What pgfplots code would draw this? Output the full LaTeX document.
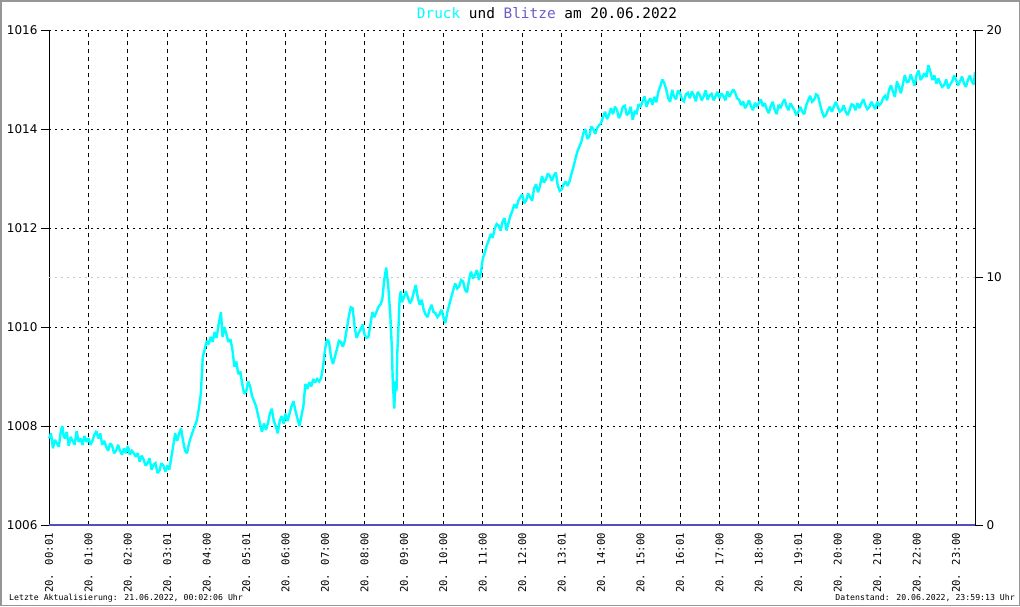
\documentclass[border=0pt]{standalone}
\usepackage{fontspec}
\setmainfont{DejaVu Sans}
\newfontfamily\monofont{DejaVu Sans Mono}
\usepackage{pgfplots}
\usepackage{pgfplotstable}
\pgfplotsset{compat=1.18}
\definecolor{druck}{RGB}{0,255,255}
\definecolor{blitz}{RGB}{106,90,205}
\definecolor{blitzline}{RGB}{85,80,185}
\definecolor{framegray}{RGB}{150,150,150}

\pgfplotstableread{
h v
0.0 1007.75
0.05 1007.85
0.1 1007.55
0.15 1007.72
0.2 1007.65
0.25 1007.58
0.3 1007.90
0.34 1008.00
0.37 1007.80
0.4 1007.75
0.45 1007.88
0.5 1007.60
0.55 1007.78
0.6 1007.70
0.65 1007.62
0.7 1007.90
0.75 1007.68
0.8 1007.75
0.85 1007.62
0.9 1007.80
0.95 1007.68
1.0 1007.75
1.05 1007.62
1.1 1007.70
1.15 1007.82
1.2 1007.90
1.25 1007.75
1.3 1007.85
1.35 1007.62
1.4 1007.70
1.45 1007.58
1.5 1007.50
1.55 1007.65
1.6 1007.60
1.65 1007.45
1.7 1007.50
1.75 1007.62
1.8 1007.50
1.85 1007.42
1.9 1007.55
1.95 1007.45
2.0 1007.60
2.05 1007.42
2.1 1007.50
2.15 1007.45
2.2 1007.38
2.25 1007.45
2.3 1007.28
2.35 1007.40
2.4 1007.32
2.45 1007.20
2.5 1007.25
2.55 1007.35
2.6 1007.12
2.65 1007.22
2.7 1007.25
2.75 1007.05
2.8 1007.10
2.85 1007.25
2.9 1007.20
2.95 1007.08
3.0 1007.20
3.05 1007.12
3.1 1007.35
3.15 1007.60
3.2 1007.85
3.25 1007.70
3.3 1007.85
3.35 1007.95
3.4 1007.70
3.45 1007.50
3.5 1007.45
3.55 1007.65
3.6 1007.78
3.65 1007.90
3.7 1008.00
3.75 1008.12
3.8 1008.35
3.85 1008.65
3.9 1009.40
3.95 1009.55
4.0 1009.72
4.05 1009.65
4.1 1009.80
4.15 1009.70
4.2 1009.90
4.25 1009.78
4.3 1010.05
4.36 1010.30
4.4 1009.80
4.45 1010.00
4.5 1009.85
4.55 1009.70
4.6 1009.75
4.65 1009.55
4.7 1009.20
4.75 1009.30
4.8 1009.05
4.85 1009.10
4.9 1008.85
4.95 1008.65
5.0 1008.70
5.05 1008.90
5.1 1008.80
5.15 1008.60
5.2 1008.50
5.25 1008.40
5.3 1008.22
5.35 1008.05
5.4 1007.88
5.45 1008.05
5.5 1007.92
5.55 1008.05
5.6 1008.25
5.65 1008.35
5.7 1008.10
5.75 1008.00
5.8 1007.85
5.85 1008.10
5.9 1008.20
5.95 1008.05
6.0 1008.25
6.05 1008.10
6.1 1008.25
6.15 1008.40
6.2 1008.50
6.25 1008.30
6.3 1008.15
6.35 1008.00
6.4 1008.20
6.45 1008.40
6.5 1008.85
6.55 1008.75
6.6 1008.88
6.65 1008.80
6.7 1008.95
6.75 1008.88
6.8 1008.95
6.85 1008.90
6.9 1008.97
6.95 1009.20
7.0 1009.55
7.05 1009.75
7.1 1009.70
7.15 1009.40
7.2 1009.25
7.25 1009.40
7.3 1009.55
7.35 1009.72
7.4 1009.70
7.45 1009.60
7.5 1009.72
7.55 1009.95
7.6 1010.20
7.65 1010.40
7.7 1010.38
7.75 1010.00
7.8 1009.78
7.85 1009.88
7.9 1009.95
7.95 1010.05
8.0 1009.85
8.05 1009.78
8.1 1009.80
8.15 1010.05
8.2 1010.30
8.25 1010.20
8.3 1010.30
8.35 1010.40
8.4 1010.45
8.45 1010.55
8.5 1010.95
8.55 1011.20
8.6 1010.85
8.654 1010.25
8.692 1009.60
8.717 1008.90
8.755 1008.35
8.781 1008.90
8.811 1008.70
8.832 1009.50
8.857 1009.90
8.890 1010.57
8.92 1010.72
8.95 1010.50
9.0 1010.60
9.05 1010.72
9.1 1010.60
9.15 1010.48
9.2 1010.55
9.25 1010.70
9.3 1010.85
9.35 1010.60
9.4 1010.45
9.45 1010.55
9.5 1010.35
9.55 1010.25
9.6 1010.20
9.65 1010.35
9.7 1010.45
9.75 1010.30
9.8 1010.28
9.85 1010.20
9.9 1010.25
9.95 1010.35
10.0 1010.20
10.05 1010.08
10.1 1010.30
10.15 1010.45
10.2 1010.60
10.25 1010.75
10.3 1010.88
10.35 1010.78
10.4 1010.82
10.45 1010.95
10.5 1010.92
10.55 1010.75
10.6 1010.70
10.65 1010.95
10.7 1011.12
10.75 1010.98
10.8 1011.05
10.85 1011.15
10.9 1010.95
10.95 1011.10
11.0 1011.38
11.05 1011.50
11.1 1011.65
11.15 1011.75
11.2 1011.88
11.25 1011.80
11.3 1011.98
11.35 1012.08
11.4 1012.05
11.45 1011.95
11.5 1012.12
11.55 1012.20
11.6 1011.95
11.65 1012.10
11.7 1012.25
11.75 1012.35
11.8 1012.48
11.85 1012.40
11.9 1012.55
11.95 1012.62
12.0 1012.68
12.05 1012.50
12.1 1012.56
12.15 1012.70
12.2 1012.62
12.25 1012.55
12.3 1012.80
12.35 1012.88
12.4 1012.72
12.45 1012.85
12.5 1013.05
12.55 1012.92
12.6 1012.98
12.65 1013.10
12.7 1013.05
12.75 1012.95
12.8 1013.06
12.85 1013.12
12.9 1012.86
12.95 1012.75
13.0 1012.78
13.05 1012.88
13.1 1012.94
13.15 1012.85
13.2 1012.95
13.25 1013.10
13.3 1013.24
13.35 1013.40
13.4 1013.55
13.45 1013.65
13.5 1013.75
13.55 1013.92
13.6 1014.00
13.65 1013.80
13.7 1013.85
13.75 1014.05
13.8 1014.00
13.85 1013.90
13.9 1014.02
13.95 1014.08
14.0 1014.12
14.05 1014.25
14.1 1014.35
14.15 1014.20
14.2 1014.29
14.25 1014.42
14.3 1014.30
14.35 1014.45
14.4 1014.39
14.45 1014.22
14.5 1014.30
14.55 1014.45
14.6 1014.47
14.65 1014.28
14.7 1014.32
14.75 1014.45
14.8 1014.19
14.85 1014.35
14.9 1014.32
14.95 1014.50
15.0 1014.46
15.05 1014.55
15.1 1014.66
15.15 1014.45
15.2 1014.56
15.25 1014.62
15.3 1014.49
15.35 1014.65
15.4 1014.54
15.45 1014.75
15.5 1014.86
15.55 1015.00
15.6 1014.93
15.65 1014.80
15.7 1014.62
15.75 1014.55
15.8 1014.79
15.85 1014.65
15.9 1014.60
15.95 1014.78
16.0 1014.73
16.05 1014.60
16.1 1014.56
16.15 1014.70
16.2 1014.73
16.25 1014.62
16.3 1014.76
16.35 1014.68
16.4 1014.56
16.45 1014.75
16.5 1014.69
16.55 1014.58
16.6 1014.66
16.65 1014.78
16.7 1014.59
16.75 1014.68
16.8 1014.71
16.85 1014.58
16.9 1014.66
16.95 1014.75
17.0 1014.62
17.05 1014.72
17.1 1014.66
17.15 1014.58
17.2 1014.76
17.25 1014.65
17.3 1014.73
17.35 1014.80
17.4 1014.73
17.45 1014.62
17.5 1014.59
17.55 1014.48
17.6 1014.56
17.65 1014.42
17.7 1014.49
17.75 1014.58
17.8 1014.46
17.85 1014.38
17.9 1014.53
17.95 1014.45
18.0 1014.53
18.05 1014.60
18.1 1014.46
18.15 1014.52
18.2 1014.40
18.25 1014.32
18.3 1014.46
18.35 1014.55
18.4 1014.39
18.45 1014.30
18.5 1014.49
18.55 1014.42
18.6 1014.53
18.65 1014.60
18.7 1014.46
18.75 1014.38
18.8 1014.52
18.85 1014.45
18.9 1014.38
18.95 1014.28
19.0 1014.35
19.05 1014.45
19.1 1014.35
19.15 1014.30
19.2 1014.48
19.25 1014.58
19.3 1014.67
19.35 1014.55
19.4 1014.59
19.45 1014.70
19.5 1014.67
19.55 1014.50
19.6 1014.35
19.65 1014.25
19.7 1014.28
19.75 1014.38
19.8 1014.45
19.85 1014.35
19.9 1014.45
19.95 1014.55
20.0 1014.45
20.05 1014.35
20.1 1014.38
20.15 1014.48
20.2 1014.35
20.25 1014.28
20.3 1014.38
20.35 1014.50
20.4 1014.48
20.45 1014.38
20.5 1014.52
20.55 1014.42
20.6 1014.52
20.65 1014.60
20.7 1014.48
20.75 1014.40
20.8 1014.44
20.85 1014.55
20.9 1014.48
20.95 1014.40
21.0 1014.55
21.05 1014.48
21.1 1014.52
21.15 1014.62
21.2 1014.67
21.25 1014.58
21.3 1014.79
21.35 1014.88
21.4 1014.75
21.45 1014.65
21.5 1014.96
21.55 1014.85
21.6 1014.72
21.65 1014.90
21.7 1015.09
21.75 1014.95
21.8 1014.96
21.85 1015.10
21.9 1014.99
21.95 1014.88
22.0 1015.09
22.05 1015.18
22.1 1014.99
22.15 1015.05
22.2 1015.13
22.25 1015.05
22.3 1015.29
22.35 1015.15
22.4 1014.99
22.45 1015.08
22.5 1014.92
22.55 1015.02
22.6 1014.92
22.65 1014.85
22.7 1014.89
22.75 1015.00
22.8 1014.82
22.85 1014.90
22.9 1014.96
22.95 1015.08
23.0 1014.99
23.05 1014.88
23.1 1014.96
23.15 1015.06
23.2 1014.92
23.25 1014.85
23.3 1014.99
23.35 1015.08
23.4 1014.96
23.45 1014.90
23.48 1015.15
}\druckdata

\begin{document}
\begin{tikzpicture}[x=1pt,y=1pt]
\draw[framegray, line width=1.5pt] (0.75,-0.75) rectangle (1019.25,-605.25);
\node[anchor=center, font=\monofont\fontsize{14.4}{14.4}\selectfont] at (547,-13)
  {\textcolor{druck}{Druck} und \textcolor{blitz}{Blitze} am 20.06.2022};
\node[anchor=west, font=\monofont\fontsize{8.2}{8.2}\selectfont, inner sep=0pt] at (9,-598)
  {Letzte Aktualisierung: 21.06.2022, 00:02:06 Uhr};
\node[anchor=east, font=\monofont\fontsize{8.2}{8.2}\selectfont, inner sep=0pt] at (1015,-598)
  {Datenstand: 20.06.2022, 23:59:13 Uhr};

\begin{axis}[
  at={(49pt,-525pt)}, anchor=south west,
  scale only axis, width=926pt, height=495pt,
  xmin=0, xmax=23.48, ymin=1006, ymax=1016,
  axis lines*=left, axis line style={-, line width=1pt, black},
  xtick={0,1,...,23},
  xticklabels={20. 00:01,20. 01:00,20. 02:00,20. 03:01,20. 04:00,20. 05:01,20. 06:00,20. 07:00,20. 08:00,20. 09:00,20. 10:00,20. 11:00,20. 12:00,20. 13:01,20. 14:00,20. 15:00,20. 16:01,20. 17:00,20. 18:00,20. 19:01,20. 20:00,20. 21:00,20. 22:00,20. 23:00},
  x tick label style={rotate=90, anchor=east, inner sep=0pt, xshift=0pt, font=\monofont\fontsize{10.6}{10.6}\selectfont},
  xtick style={draw=none},
  ytick={1006,1008,...,1016},
  /pgf/number format/assume math mode=true,
  y tick label style={font=\fontsize{12}{12}\selectfont},
  yticklabel={\pgfmathprintnumber[fixed,1000 sep={}]{\tick}},
  ytick style={black, line width=1pt},
  tick align=outside, major tick length=8pt,
  xmajorgrids, ymajorgrids,
  major x grid style={black, line width=1pt, dash pattern=on 4pt off 4pt},
  major y grid style={black, line width=1pt, dash pattern=on 2pt off 4pt},
  extra y ticks={1011}, extra y tick labels={},
  extra y tick style={major tick length=0pt, major y grid style={gray!45, line width=1pt, dash pattern=on 2pt off 4pt}},
  clip=false,
]
\addplot[druck, line width=2.4pt, line join=miter, miter limit=2] table[x=h, y=v] {\druckdata};
\end{axis}

\begin{axis}[
  at={(49pt,-525pt)}, anchor=south west,
  scale only axis, width=926pt, height=495pt,
  xmin=0, xmax=23.48, ymin=0, ymax=20,
  axis x line=none, axis y line*=right,
  axis line style={-, line width=1pt, black},
  ytick={0,10,20},
  /pgf/number format/assume math mode=true,
  y tick label style={font=\fontsize{12}{12}\selectfont},
  ytick style={black, line width=1pt},
  tick align=outside, major tick length=8pt,
  clip=false,
]
\addplot[blitzline, line width=2pt] coordinates {(0,0) (23.48,0)};
\end{axis}
\end{tikzpicture}
\end{document}
